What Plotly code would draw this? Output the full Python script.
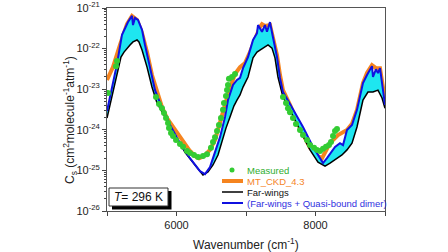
import plotly.graph_objects as go

# ---------------- data ----------------
ckd_wn = [5000, 5086, 5187, 5288, 5360, 5432, 5504, 5576, 5647, 5719, 5791, 5863, 5978, 6050,
          6122, 6194, 6266, 6324, 6396, 6482, 6554, 6626, 6698, 6770, 6842, 6914, 6986, 7058,
          7130, 7201, 7230, 7273, 7345, 7388, 7446, 7489, 7532, 7633, 7777, 7921, 8036, 8094,
          8209, 8324, 8453, 8525, 8597, 8683, 8741, 8813, 8870, 8928, 9000]
ckd_cs = [1.69e-23, 3.5e-23, 1.23e-22, 4.0e-22, 6.4e-22, 5.1e-22, 2.4e-22, 8.2e-23, 2.24e-23,
          8.1e-24, 3.6e-24, 1.95e-24, 9.9e-25, 6.6e-25, 4.2e-25, 3.0e-25, 2.26e-25, 2.0e-25,
          2.26e-25, 3.2e-25, 5.6e-25, 1.4e-24, 4.1e-24, 1.07e-23, 2.37e-23, 3.5e-23, 4.4e-23,
          8.2e-23, 1.82e-22, 3.4e-22, 4.0e-22, 3.6e-22, 3.8e-22, 1.9e-22, 6.95e-23, 2.24e-23,
          9.5e-24, 4.1e-24, 1.1e-24, 3.6e-25, 2.26e-25, 2.0e-25, 4.7e-25, 7.4e-25, 9.9e-25,
          1.4e-24, 3.1e-24, 1.42e-23, 2.5e-23, 3.9e-23, 3.3e-23, 3.3e-23, 5.4e-24]

fw_wn = [5000, 5072, 5144, 5201, 5245, 5288, 5331, 5374, 5432, 5460, 5504, 5576, 5647, 5719,
         5835, 5978, 6122, 6266, 6381, 6453, 6525, 6597, 6655, 6712, 6770, 6827, 6870, 6914,
         6957, 7029, 7101, 7158, 7201, 7245, 7317, 7374, 7417, 7460, 7532, 7633, 7777, 7921,
         8036, 8137, 8209, 8309, 8381, 8453, 8525, 8597, 8683, 8755, 8827, 8899, 8957, 9000]
fw_cs = [1.95e-24, 7.2e-24, 2.65e-23, 6.2e-23, 8.2e-23, 1.03e-22, 1.23e-22, 1.46e-22, 1.63e-22,
         1.46e-22, 9.2e-23, 3.5e-23, 1.13e-23, 4.6e-24, 2.07e-24, 7.4e-25, 2.8e-25, 1.36e-25,
         7.7e-26, 9.1e-26, 1.36e-25, 2.4e-25, 5.6e-25, 1.1e-24, 2.07e-24, 3.9e-24, 5.4e-24,
         7.2e-24, 1.13e-23, 2.0e-23, 5.9e-23, 8.2e-23, 9.2e-23, 1.03e-22, 1.23e-22, 1.03e-22,
         5.9e-23, 2.0e-23, 6.4e-24, 3.1e-24, 9.9e-25, 3.2e-25, 1.6e-25, 1.28e-25, 1.52e-25,
         2.0e-25, 2.4e-25, 3.2e-25, 4.7e-25, 1.17e-24, 5.4e-24, 8.5e-24, 8.5e-24, 9.5e-24,
         6.1e-24, 3.4e-24]

qbd_wn = [5000, 5072, 5144, 5216, 5259, 5302, 5331, 5360, 5374, 5403, 5446, 5475, 5504, 5547,
          5619, 5691, 5763, 5907, 6050, 6194, 6338, 6410, 6482, 6554, 6626, 6698, 6741, 6813,
          6870, 6914, 6957, 7029, 7101, 7158, 7173, 7230, 7273, 7302, 7345, 7388, 7446, 7489,
          7532, 7633, 7820, 7964, 8065, 8108, 8165, 8281, 8352, 8396, 8453, 8525, 8597, 8683,
          8741, 8813, 8827, 8870, 8899, 8928, 9000]
qbd_cs = [2.9e-24, 1.07e-23, 4.2e-23, 2.2e-22, 3.2e-22, 4.5e-22, 5.4e-22, 6.4e-22, 3.8e-22,
          5.7e-22, 5.1e-22, 3.8e-22, 2.9e-22, 1.23e-22, 3.3e-23, 9.5e-24, 4.6e-24, 1.31e-24,
          4.7e-25, 2.0e-25, 9.6e-26, 8.1e-26, 1.2e-25, 2.8e-25, 6.6e-25, 2.07e-24, 5.4e-24,
          1.27e-23, 1.69e-23, 1.9e-23, 3.3e-23, 6.2e-23, 1.63e-22, 2.4e-22, 3.8e-22, 2.6e-22,
          3.8e-22, 2.6e-22, 4.5e-22, 1.9e-22, 6.2e-23, 1.9e-23, 8.5e-24, 4.3e-24, 1.17e-24,
          3.8e-25, 2.0e-25, 1.52e-25, 2.0e-25, 3.8e-25, 4.7e-25, 4.2e-25, 9.9e-25, 1.31e-24,
          3.1e-24, 1.42e-23, 2.24e-23, 3.7e-23, 2.0e-23, 3.1e-23, 2.5e-23, 3.3e-23, 4.1e-24]

meas_wn = [5014, 5129, 5144,
           5705, 5748, 5791, 5820, 5849, 5878, 5892, 5921, 5950, 5993, 6050, 6094, 6151, 6194,
           6252, 6309, 6381, 6439, 6496, 6525, 6554, 6583, 6611, 6640, 6669, 6683, 6712, 6727,
           6741, 6755, 6799, 6842,
           7532, 7576, 7604, 7633, 7676, 7719, 7777, 7820, 7878, 7921, 7979, 8022, 8065, 8108,
           8151, 8194, 8223, 8252, 8281, 8309]
meas_cs = [8.1e-24, 3.7e-23, 4.95e-23,
           6.4e-24, 4.3e-24, 3.4e-24, 2.6e-24, 1.95e-24, 1.47e-24, 1.1e-24, 8.3e-25, 7.0e-25,
           5.6e-25, 4.5e-25, 3.8e-25, 3.0e-25, 2.7e-25, 2.4e-25, 2.14e-25, 2.26e-25, 2.5e-25,
           3.6e-25, 5.0e-25, 6.6e-25, 9.4e-25, 1.31e-24, 1.95e-24, 3.1e-24, 4.6e-24, 6.8e-24,
           9.5e-24, 1.27e-23, 1.8e-23, 2.0e-23, 2.37e-23,
           6.4e-24, 4.6e-24, 3.4e-24, 2.7e-24, 1.95e-24, 1.39e-24, 9.9e-25, 7.4e-25, 5.6e-25,
           4.2e-25, 3.6e-25, 3.2e-25, 3.0e-25, 3.4e-25, 3.8e-25, 4.2e-25, 5.0e-25, 7.0e-25,
           9.4e-25, 1.05e-24]

x_ticks = [5000, 6000, 7000, 8000, 9000]
x_ticktext = ["", "6000", "", "8000", ""]
y_ticks = [1e-26, 1e-25, 1e-24, 1e-23, 1e-22, 1e-21]
y_ticktext = ["10<sup>-26</sup>", "10<sup>-25</sup>", "10<sup>-24</sup>",
              "10<sup>-23</sup>", "10<sup>-22</sup>", "10<sup>-21</sup>"]

legend_names = ["Measured", "MT_CKD_4.3", "Far-wings", "(Far-wings + Quasi-bound dimer)"]

# ---------------- styling ----------------
C_ORANGE = "#f5841f"
C_BLUE = "#1010e0"
C_BLACK = "#000000"
C_GREEN = "#33cc33"
C_CYAN = "#1ee6f0"
FONT = "Arial, Liberation Sans, sans-serif"

fig = go.Figure()
fig.add_trace(go.Scatter(x=ckd_wn, y=ckd_cs, mode="lines",
                         line=dict(color=C_ORANGE, width=4), showlegend=False))
fig.add_trace(go.Scatter(x=fw_wn, y=fw_cs, mode="lines",
                         line=dict(color=C_BLACK, width=1.5), showlegend=False))
fig.add_trace(go.Scatter(x=qbd_wn, y=qbd_cs, mode="lines", fill="tonexty",
                         fillcolor=C_CYAN, line=dict(color=C_BLUE, width=2), showlegend=False))
fig.add_trace(go.Scatter(x=meas_wn, y=meas_cs, mode="markers",
                         marker=dict(color=C_GREEN, size=6, line=dict(width=0)), showlegend=False))

minor_vals = [m * 10.0 ** e for e in range(-26, -21) for m in range(2, 10)]

fig.update_layout(
    width=448, height=252,
    margin=dict(l=107, r=63, t=8, b=41, autoexpand=False),
    paper_bgcolor="white", plot_bgcolor="white",
    font=dict(family=FONT, size=11, color="#222"),
    showlegend=False,
    xaxis=dict(range=[5000, 9000], tickmode="array", tickvals=x_ticks, ticktext=x_ticktext,
               ticks="outside", ticklen=4, tickcolor="#444", showline=True, mirror=True,
               linecolor="#555", linewidth=1, showgrid=False, zeroline=False, automargin=False,
               tickfont=dict(size=11, color="#222")),
    yaxis=dict(type="log", range=[-26, -21], tickmode="array", tickvals=y_ticks,
               ticktext=y_ticktext, ticks="outside", ticklen=4, tickcolor="#444",
               showline=True, mirror=True, linecolor="#555", linewidth=1, showgrid=False,
               zeroline=False, automargin=False, tickfont=dict(size=11, color="#222"),
               minor=dict(tickmode="array", tickvals=minor_vals, ticks="outside",
                          ticklen=2, tickcolor="#444", showgrid=False)),
)

def px(xp):
    return (xp - 107) / 278.0

def py(yp):
    return (211 - yp) / 203.0

ann = []
# axis titles
ann.append(dict(x=px(246), y=py(244), xref="paper", yref="paper", showarrow=False,
                text="Wavenumber (cm<sup>-1</sup>)", font=dict(size=12, color="#222"),
                xanchor="center", yanchor="middle"))
ann.append(dict(x=px(70), y=py(120), xref="paper", yref="paper", showarrow=False,
                text="C<sub>s</sub> (cm<sup>2</sup>molecule<sup>-1</sup>atm<sup>-1</sup>)",
                textangle=-90, font=dict(size=12, color="#222"),
                xanchor="center", yanchor="middle"))
# legend
leg_rows = [170, 181, 192, 203]
leg_cols = ["#2fae2f", C_ORANGE, "#111111", "#3030e0"]
for name, yr, col in zip(legend_names, leg_rows, leg_cols):
    ann.append(dict(x=px(245), y=py(yr), xref="paper", yref="paper", showarrow=False,
                    text=name, font=dict(size=9.5, color=col), xanchor="left", yanchor="middle"))
# T box text
ann.append(dict(x=px(138.5), y=py(197), xref="paper", yref="paper", showarrow=False,
                text="<i>T</i>= 296 K", font=dict(size=12, color="#111"),
                xanchor="center", yanchor="middle"))

shapes = []
shapes.append(dict(type="line", xref="paper", yref="paper", x0=px(222), x1=px(243),
                   y0=py(181), y1=py(181), line=dict(color=C_ORANGE, width=4)))
shapes.append(dict(type="line", xref="paper", yref="paper", x0=px(222), x1=px(243),
                   y0=py(192), y1=py(192), line=dict(color=C_BLACK, width=1.5)))
shapes.append(dict(type="line", xref="paper", yref="paper", x0=px(222), x1=px(243),
                   y0=py(203), y1=py(203), line=dict(color=C_BLUE, width=2)))
shapes.append(dict(type="circle", xref="paper", yref="paper", x0=px(229.5), x1=px(234.5),
                   y0=py(172.5), y1=py(167.5), fillcolor=C_GREEN, line=dict(width=0)))
# T box with shadow
shapes.append(dict(type="rect", xref="paper", yref="paper", x0=px(112), x1=px(171.5),
                   y0=py(209.5), y1=py(191), fillcolor="black", line=dict(width=0)))
shapes.append(dict(type="rect", xref="paper", yref="paper", x0=px(109), x1=px(168),
                   y0=py(206), y1=py(188), fillcolor="white", line=dict(color="#333", width=1)))

fig.update_layout(annotations=ann, shapes=shapes)
fig.write_html("out.html", config={"displayModeBar": False},
               post_script="document.body.style.margin='0';document.body.style.padding='0';")
